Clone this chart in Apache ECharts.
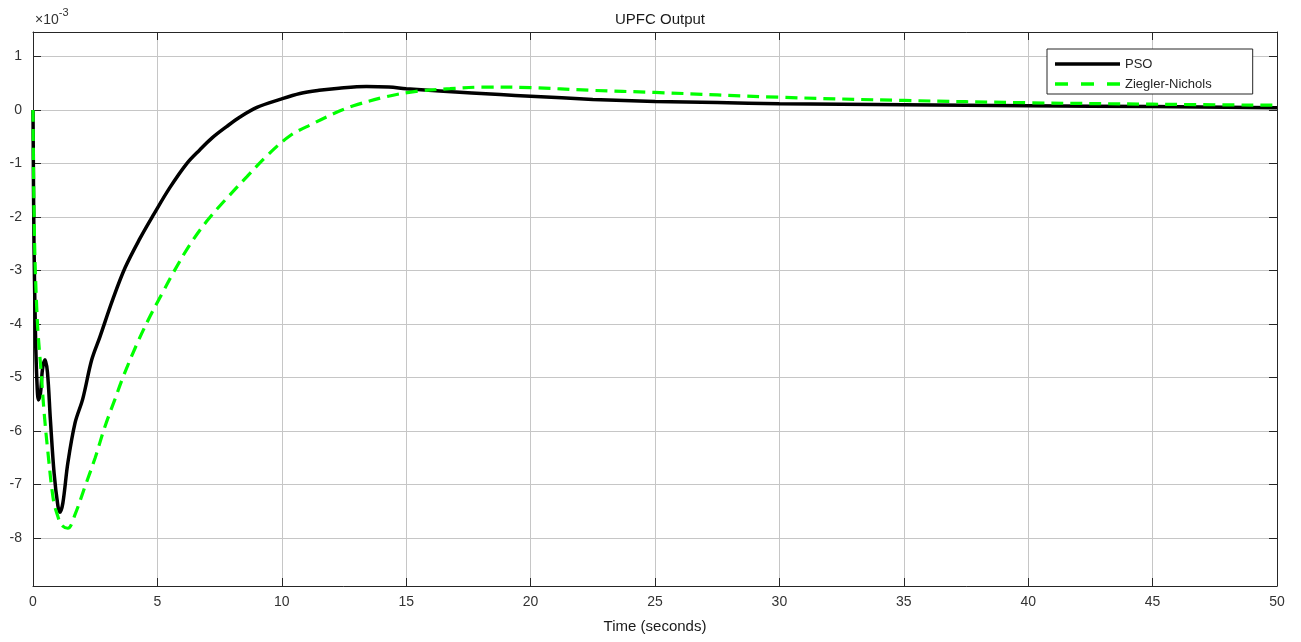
<!DOCTYPE html>
<html>
<head>
<meta charset="utf-8">
<script src="https://cdn.jsdelivr.net/npm/echarts@6/dist/echarts.min.js"></script>
<style>
html,body{margin:0;padding:0;background:#fff;}
#chart{width:1301px;height:642px;}
</style>
</head>
<body>
<div id="chart"></div>
<script>
// Values in units of 1e-3
const psoT = [0, 0.04, 0.1, 0.16, 0.22, 0.3, 0.38, 0.48, 0.58, 0.7, 0.85, 1.0, 1.08, 1.2, 1.4, 1.69, 2.0, 2.36, 2.69, 3.2, 3.7, 4.3, 4.84, 5.5, 6.18, 6.71, 7.2, 7.78, 8.32, 9.0, 9.93, 10.73, 11.5, 12.3, 13.4, 14.3, 15.0, 16.5, 18.77, 20, 22.5, 25, 27.5, 30, 35, 40, 45, 50];
const psoV = [0, -2.5, -4.2, -5.1, -5.42, -5.3, -4.85, -4.67, -4.9, -5.8, -6.8, -7.4, -7.52, -7.35, -6.6, -5.85, -5.4, -4.67, -4.24, -3.55, -2.95, -2.4, -1.96, -1.45, -1.0, -0.74, -0.52, -0.31, -0.13, 0.05, 0.2, 0.31, 0.37, 0.41, 0.44, 0.43, 0.4, 0.35, 0.29, 0.26, 0.2, 0.16, 0.14, 0.12, 0.1, 0.08, 0.065, 0.045];
const znT = [0, 0.03, 0.08, 0.15, 0.2, 0.32, 0.45, 0.6, 0.82, 1.0, 1.15, 1.4, 1.7, 2.09, 2.5, 2.89, 3.3, 3.63, 4.2, 4.7, 5.2, 5.64, 6.3, 6.98, 7.65, 8.59, 9.39, 10.33, 11.27, 12.07, 12.88, 14.2, 15.4, 16.76, 18.1, 20, 22.4, 25, 30, 35, 40, 45, 50];
const znV = [0, -1.5, -2.8, -3.7, -4.15, -4.86, -5.67, -6.4, -7.29, -7.6, -7.76, -7.82, -7.55, -7.04, -6.5, -5.92, -5.4, -4.98, -4.35, -3.86, -3.42, -3.04, -2.52, -2.08, -1.72, -1.25, -0.86, -0.48, -0.25, -0.07, 0.08, 0.25, 0.35, 0.4, 0.43, 0.42, 0.37, 0.33, 0.24, 0.18, 0.137, 0.11, 0.09];
const yTicks = [-8, -7, -6, -5, -4, -3, -2, -1, 0, 1];
const seriesNames = ['PSO', 'Ziegler-Nichols'];
const titleText = 'UPFC Output';
const xName = 'Time (seconds)';

const pso = psoT.map((t, i) => [t, psoV[i]]);
const zn = znT.map((t, i) => [t, znV[i]]);

const axisColor = '#262626';
const gridColor = '#c6c6c6';
const font = 'Liberation Sans, Arial, Helvetica, sans-serif';

const chart = echarts.init(document.getElementById('chart'), null, {renderer: 'canvas'});
const xCommon = {
  type: 'value', min: 0, max: 50, interval: 5,
  axisLine: {show: true, onZero: false, lineStyle: {color: axisColor, width: 1}},
  axisTick: {show: true, inside: true, length: 8, lineStyle: {color: axisColor}},
};
const yCommon = {
  type: 'value', min: -8.9, max: 1.46,
  axisLine: {show: true, onZero: false, lineStyle: {color: axisColor, width: 1}},
  axisTick: {show: true, inside: true, length: 8, customValues: yTicks, lineStyle: {color: axisColor}},
};
chart.setOption({
  animation: false,
  backgroundColor: '#fff',
  title: {
    text: titleText, left: 655, top: 7, textAlign: 'center',
    textStyle: {fontFamily: font, fontSize: 15, fontWeight: 'normal', color: '#1a1a1a'}
  },
  graphic: [{
    type: 'text', left: 35, top: 7,
    style: {
      text: '{a|×10}{b|-3}',
      rich: {
        a: {fontFamily: font, fontSize: 14, fill: '#333', padding: [6, 0, 0, 0]},
        b: {fontFamily: font, fontSize: 11, fill: '#333', verticalAlign: 'top', padding: [0, 0, 6, 0]}
      }
    }
  }],
  legend: {
    data: [
      {name: seriesNames[0], icon: 'path://M0,0h65v3.5h-65z'},
      {name: seriesNames[1], icon: 'path://M0,0h13v3.5h-13z M26,0h13v3.5h-13z M52,0h13v3.5h-13z'}
    ],
    orient: 'vertical', left: 1047, top: 49,
    backgroundColor: '#fff', borderColor: axisColor, borderWidth: 1,
    padding: [8, 41, 3, 8], itemGap: 6, itemWidth: 65, itemHeight: 3.5,
    textStyle: {fontFamily: font, fontSize: 13, color: '#262626', lineHeight: 14}
  },
  grid: {left: 33, right: 24, top: 32, bottom: 56, containLabel: false},
  xAxis: [
    Object.assign({}, xCommon, {
      position: 'bottom',
      name: xName, nameLocation: 'middle', nameGap: 33,
      nameTextStyle: {fontFamily: font, fontSize: 15, color: '#1a1a1a'},
      axisLabel: {show: true, margin: 9, fontFamily: font, fontSize: 14, color: '#333'},
      splitLine: {show: true, lineStyle: {color: gridColor, width: 1}}
    }),
    Object.assign({}, xCommon, {
      position: 'top', axisLabel: {show: false}, splitLine: {show: false}
    })
  ],
  yAxis: [
    Object.assign({}, yCommon, {
      position: 'left',
      axisLabel: {show: true, margin: 11, customValues: yTicks, fontFamily: font, fontSize: 14, color: '#333'},
      splitLine: {show: true, customValues: yTicks, lineStyle: {color: gridColor, width: 1}}
    }),
    Object.assign({}, yCommon, {
      position: 'right', axisLabel: {show: false}, splitLine: {show: false}
    })
  ],
  series: [
    {
      name: seriesNames[0], type: 'line', data: pso, symbol: 'none', showSymbol: false,
      smooth: 0.35,
      lineStyle: {color: '#000', width: 3.5, type: 'solid'},
      itemStyle: {color: '#000'}
    },
    {
      name: seriesNames[1], type: 'line', data: zn, symbol: 'none', showSymbol: false,
      smooth: 0.35,
      lineStyle: {color: '#00ff00', width: 3.2, type: [12, 7]},
      itemStyle: {color: '#00ff00'}
    }
  ]
});
</script>
</body>
</html>
